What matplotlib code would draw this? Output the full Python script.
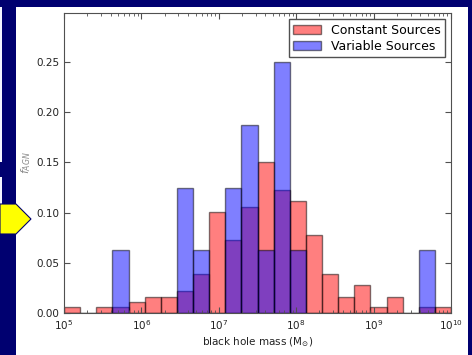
import numpy as np
import matplotlib
matplotlib.use("Agg")
import matplotlib.pyplot as plt
from matplotlib.patches import Rectangle, Polygon
from matplotlib.ticker import LogLocator, FixedLocator

# fraction of AGN per 0.2 dex black hole mass bin (1e5 .. 1e10, 24 bins)
n_bins = 24
constant_frac = [0.0057, 0.0, 0.0057, 0.0057, 0.0107, 0.0163, 0.0163, 0.022,
                 0.0386, 0.1004, 0.0725, 0.106, 0.1503, 0.123, 0.1114, 0.0778,
                 0.0386, 0.0163, 0.0276, 0.0057, 0.0163, 0.0, 0.0057, 0.0057]
variable_frac = [0.0, 0.0, 0.0, 0.0625, 0.0, 0.0, 0.0, 0.125,
                 0.0625, 0.0, 0.125, 0.1875, 0.0625, 0.25, 0.0625, 0.0,
                 0.0, 0.0, 0.0, 0.0, 0.0, 0.0, 0.0625, 0.0]
y_ticks = [0.00, 0.05, 0.10, 0.15, 0.20, 0.25]

W, H = 472, 355
fig = plt.figure(figsize=(W / 100, H / 100), dpi=100)
fig.patch.set_facecolor("#000070")

# slide background pieces
bg = fig.add_axes([0, 0, 1, 1])
bg.set_xlim(0, W)
bg.set_ylim(H, 0)
bg.axis("off")
bg.add_patch(Rectangle((16, 7), 452, 350, facecolor="white", edgecolor="none"))
bg.add_patch(Rectangle((0, 7), 2, 155, facecolor="#f4f4ff", edgecolor="none"))
bg.add_patch(Rectangle((0, 177), 2, 27, facecolor="#f4f4ff", edgecolor="none"))
bg.add_patch(Polygon([(0, 204), (16, 204), (31, 219), (16, 234), (0, 234)],
                     closed=True, facecolor="#ffff00", edgecolor="#000070", lw=0.8))

ax = fig.add_axes([64 / W, 1 - 313 / H, (451 - 64) / W, (313 - 13) / H])
edges = np.logspace(5, 10, n_bins + 1)
widths = np.diff(edges)
ax.bar(edges[:-1], constant_frac, width=widths, align="edge",
       color=(1, 0, 0, 0.5), edgecolor=(0, 0, 0, 0.5), lw=1,
       label="Constant Sources")
ax.bar(edges[:-1], variable_frac, width=widths, align="edge",
       color=(0, 0, 1, 0.5), edgecolor=(0, 0, 0, 0.5), lw=1,
       label="Variable Sources")
ax.set_xscale("log")
ax.set_xlim(1e5, 1e10)
ax.set_ylim(0, 0.299)
ax.yaxis.set_major_locator(FixedLocator(y_ticks))
ax.set_yticklabels(["%.2f" % t for t in y_ticks])
ax.xaxis.set_minor_locator(LogLocator(base=10, subs=np.arange(2, 10), numticks=20))

for s in ax.spines.values():
    s.set_color("#505050")
ax.tick_params(which="both", direction="in", top=True, right=True,
               labelsize=7.5, colors="#505050", labelcolor="#222222")
ax.tick_params(which="major", length=4)
ax.tick_params(which="minor", length=2)

ax.set_xlabel(r"black hole mass (M$_{\odot}$)", fontsize=7.5, color="#222222", labelpad=3)
ax.set_ylabel(r"$f_{AGN}$", fontsize=8, color="#888888", labelpad=2)

leg = ax.legend(loc="upper right", fontsize=9, fancybox=False, framealpha=1,
                edgecolor="#505050", borderaxespad=0.5, handlelength=2.2,
                labelspacing=0.25, borderpad=0.35)
leg.get_frame().set_linewidth(1)

fig.savefig("out.png", dpi=100, facecolor=fig.get_facecolor())
